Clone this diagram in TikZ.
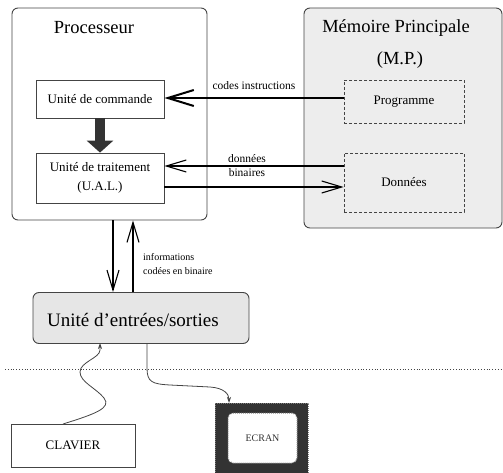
\documentclass[tikz,border=0pt]{standalone}
\usepackage{fontspec}
\setmainfont{Liberation Serif}
\usetikzlibrary{arrows.meta,calc}
\definecolor{edge}{HTML}{444444}
\definecolor{memfill}{HTML}{EDEDED}
\definecolor{iofill}{HTML}{E6E6E6}
\definecolor{dark}{HTML}{333333}
\tikzset{
  block/.style={draw=edge, line width=0.9pt, inner sep=0pt},
  unitbox/.style={block, rectangle, line width=0.8pt},
  zone/.style={draw=edge, dashed, line width=0.8pt, dash pattern=on 3pt off 2pt, inner sep=0pt},
  bigtext/.style={font=\fontsize{18.5}{22}\selectfont, inner sep=0pt},
  midtext/.style={font=\fontsize{13}{16}\selectfont, inner sep=0pt},
  smalltext/.style={font=\fontsize{11.5}{14}\selectfont, inner sep=0pt},
  tinytext/.style={font=\fontsize{10}{14}\selectfont, inner sep=0pt},
  busarrow/.style={draw=black, line width=1.1pt, -{Straight Barb[length=20pt,width=12pt,line width=1.1pt]}},
  fatbus/.style={draw=black, line width=2pt, -{Straight Barb[length=26pt,width=16pt,line width=2pt]}},
  wire/.style={draw=edge, line width=0.8pt, -{Stealth[length=6pt,width=4pt]}},
}
\begin{document}
\begin{tikzpicture}[x=1pt,y=-1pt]
\useasboundingbox (0,0) rectangle (503,473);

% processor and its units
\node[block, rounded corners=6pt, minimum width=195pt, minimum height=212pt] (proc) at (109.5,114) {};
\node[bigtext] (proct) at (94,28) {Processeur};
\node[unitbox, minimum width=128pt, minimum height=38pt, midtext] (cmd) at (100,99) {Unité de commande};
\node[unitbox, minimum width=128pt, minimum height=50pt, midtext, align=center, font=\fontsize{13}{19}\selectfont] (alu) at (100,178) {Unité de traitement\\(U.A.L.)};

% main memory
\node[block, rounded corners=6pt, fill=memfill, minimum width=198pt, minimum height=220pt] (mem) at (403,118) {};
\node[bigtext] (memt) at (396,28) {Mémoire Principale};
\node[bigtext] (memt2) at (400,60) {(M.P.)};
\node[zone, minimum width=120pt, minimum height=43pt, midtext] (prog) at (404,101.5) {Programme};
\node[zone, minimum width=120pt, minimum height=59pt, midtext] (data) at (404,182.5) {Données};

% input/output unit
\node[block, rounded corners=6pt, fill=iofill, minimum width=216pt, minimum height=51pt] (io) at (141,318) {};
\node[bigtext, font=\fontsize{19}{22}\selectfont, anchor=west] (iot) at (47,320) {Unité d’entrées/sorties};

% peripherals
\node[unitbox, minimum width=124pt, minimum height=43pt, midtext] (kbd) at (73,445.5) {CLAVIER};
\fill[dark] (215,403) rectangle (308,474);
\draw[gray, densely dotted, line width=1pt] (215,403) -- (308,403) -- (308,474) (215,474) -- (215,403);
\node[draw=gray, densely dotted, line width=1pt, fill=white, rounded corners=5pt,
      minimum width=69pt, minimum height=50pt, inner sep=0pt,
      font=\fontsize{10}{12}\selectfont\color{dark}] (scr) at (262.5,438) {ECRAN};
\coordinate (scrtop) at (229,403);

% horizontal rows of the buses
\coordinate (rowci) at (0,98);
\coordinate (rowin) at (0,166);
\coordinate (rowout) at (0,187);

\draw[fatbus] (prog.west |- rowci) -- (cmd.east |- rowci)
  node[pos=0.5, above=7pt, smalltext] (lci) {codes instructions};
\draw[busarrow] (data.west |- rowin) -- (alu.east |- rowin);
\draw[busarrow] (alu.east |- rowout) -- (data.west |- rowout);
\node[smalltext, align=center, font=\fontsize{11.5}{14}\selectfont] (ldata) at (247,166) {données\\binaires};

% control unit drives the processing unit
\draw[dark, line width=10pt, -{Triangle[length=12pt,width=26pt]}] (cmd.south) -- (alu.north);

% processor <-> input/output
\coordinate (colD) at (113,0);
\coordinate (colU) at (133,0);
\draw[busarrow] (proc.south -| colD) -- (io.north -| colD);
\draw[busarrow] (io.north -| colU) -- (proc.south -| colU);
\node[tinytext, align=left, anchor=west] (linfo) at (143,264) {informations\\codées en binaire};

% boundary of the machine
\coordinate (cutL) at (5,369);
\coordinate (cutR) at (503,369);
\draw[edge, dotted, line width=0.8pt] (cutL) -- (cutR);

% peripheral links
\coordinate (kbdout) at (63,424);
\coordinate (ioin) at (100,343);
\draw[wire] (kbdout) .. controls (95,414) and (112,408) .. (104,398)
  .. controls (96,388) and (80,382) .. (80,372)
  .. controls (80,362) and (100,358) .. (100,350) -- (ioin);
\coordinate (ioout) at (147,343);
\draw[wire] (ioout) -- (147,368) .. controls (147,382) and (152,384) .. (170,385)
  -- (210,387) .. controls (224,388) and (229,394) .. (scrtop);
\end{tikzpicture}
\end{document}
